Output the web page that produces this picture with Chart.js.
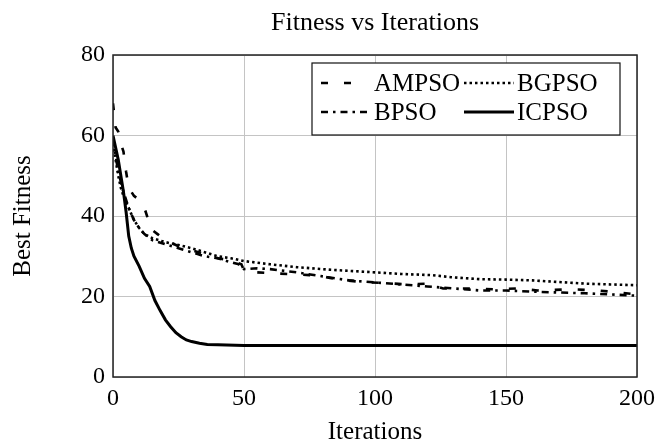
<!DOCTYPE html>
<html>
<head>
<meta charset="utf-8">
<script src="https://cdn.jsdelivr.net/npm/chart.js@4.4.1/dist/chart.umd.min.js"></script>
<style>
  body { margin: 0; background: #fff; }
</style>
</head>
<body>
<canvas id="fitnessChart" width="667" height="445"></canvas>
<script>
// values
const ampsoIters = [0, 1, 2, 3, 4, 5, 6, 8, 10, 12, 13, 14, 17, 20, 25, 30, 35, 40, 45, 49, 50, 55, 60, 70, 75, 80, 85, 95, 105, 112, 120, 126, 135, 145, 155, 162, 175, 185, 193, 200];
const ampsoFitness = [68, 62, 61, 58, 56, 51, 47, 45, 44, 42, 40, 37, 35.5, 34, 32.5, 31.5, 30.5, 29.5, 29, 28, 26.5, 26, 25.8, 25.5, 25.3, 25, 24.3, 23.6, 23.3, 23, 23.2, 22, 22, 21.8, 22, 21.5, 21.8, 21.5, 21, 20.5];

const bgpsoIters = [0, 1, 2, 3, 4, 6, 8, 10, 12, 15, 20, 25, 30, 35, 40, 45, 50, 60, 70, 84, 100, 110, 122, 129, 140, 150, 160, 170, 180, 190, 200];
const bgpsoFitness = [58, 54, 50, 47, 45, 42, 39, 37, 35.5, 34.5, 33.5, 32.8, 32, 31, 30, 29.5, 28.8, 28, 27.3, 26.6, 26, 25.6, 25.3, 24.8, 24.3, 24.2, 24, 23.6, 23.2, 23, 22.8];

const bpsoIters = [0, 2, 4, 6, 8, 10, 12, 15, 20, 25, 30, 35, 40, 45, 48, 50, 55, 60, 70, 80, 90, 100, 110, 120, 130, 140, 150, 160, 170, 180, 190, 200];
const bpsoFitness = [59, 51, 46, 42, 39, 37, 35.5, 34, 33, 32, 31, 30, 29.5, 28.5, 28, 26.8, 27, 26.8, 26, 25, 24, 23.5, 23, 22.5, 22, 21.5, 21.5, 21.2, 21, 20.8, 20.5, 20.2];

const icpsoIters = [0, 2, 4, 5, 6, 7, 8, 10, 12, 14, 16, 18, 20, 22, 24, 26, 28, 30, 33, 36, 40, 50, 60, 100, 150, 200];
const icpsoFitness = [60, 54, 46, 41, 35, 32, 30, 27.5, 24.5, 22.5, 19, 16.5, 14.2, 12.5, 11, 10, 9.2, 8.8, 8.4, 8.1, 8, 7.8, 7.8, 7.8, 7.8, 7.8];

const xTicks = [0, 50, 100, 150, 200];
const yTicks = [0, 20, 40, 60, 80];

const chartTitle = 'Fitness vs Iterations';
const serif = "'Liberation Serif', 'Times New Roman', serif";

function toPoints(iters, values) {
    return iters.map((it, i) => ({ x: it, y: values[i] }));
}

// frame, title over the plot area and the legend box in the upper right corner
const framePlugin = {
    id: 'frame',
    afterDatasetsDraw(chart) {
        const { ctx, chartArea } = chart;
        ctx.save();
        ctx.strokeStyle = '#222';
        ctx.lineWidth = 1.5;
        ctx.strokeRect(chartArea.left, chartArea.top, chartArea.right - chartArea.left, chartArea.bottom - chartArea.top);

        ctx.fillStyle = '#000';
        ctx.font = "26px " + serif;
        ctx.textAlign = 'center';
        ctx.textBaseline = 'alphabetic';
        ctx.fillText(chartTitle, (chartArea.left + chartArea.right) / 2, 30);

        const boxW = 308, boxH = 72;
        const bx = chartArea.right - 17 - boxW;
        const by = chartArea.top + 8;
        ctx.fillStyle = '#fff';
        ctx.fillRect(bx, by, boxW, boxH);
        ctx.lineWidth = 1.2;
        ctx.strokeStyle = '#111';
        ctx.strokeRect(bx, by, boxW, boxH);

        const sets = chart.data.datasets;
        ctx.font = "25px " + serif;
        ctx.textAlign = 'left';
        ctx.textBaseline = 'middle';
        sets.forEach((ds, k) => {
            const col = k % 2, row = Math.floor(k / 2);
            const sx = bx + 9 + col * 143;
            const sy = by + 20 + row * 29;
            // the dashed sample only shows two dashes in the original
            const len = ds.borderDash && ds.borderDash.length === 2 && ds.borderDash[1] > 10 ? 31 : 50;
            ctx.beginPath();
            ctx.setLineDash(ds.borderDash || []);
            ctx.lineWidth = ds.borderWidth;
            ctx.strokeStyle = ds.borderColor;
            ctx.moveTo(sx, sy);
            ctx.lineTo(sx + len, sy);
            ctx.stroke();
            ctx.setLineDash([]);
            ctx.fillStyle = '#000';
            ctx.fillText(ds.label, sx + 53, sy + 1);
        });
        ctx.restore();
    }
};

new Chart(document.getElementById('fitnessChart'), {
    type: 'line',
    data: {
        datasets: [
            { label: 'AMPSO', data: toPoints(ampsoIters, ampsoFitness), borderColor: '#000', borderWidth: 2.6, borderDash: [7, 16] },
            { label: 'BGPSO', data: toPoints(bgpsoIters, bgpsoFitness), borderColor: '#000', borderWidth: 2.6, borderDash: [2.5, 3] },
            { label: 'BPSO', data: toPoints(bpsoIters, bpsoFitness), borderColor: '#000', borderWidth: 2.6, borderDash: [7, 5, 2.5, 5] },
            { label: 'ICPSO', data: toPoints(icpsoIters, icpsoFitness), borderColor: '#000', borderWidth: 3 }
        ]
    },
    options: {
        responsive: false,
        animation: false,
        layout: { padding: { left: 0, right: 30, top: 55, bottom: 0 } },
        elements: { point: { radius: 0 }, line: { tension: 0, fill: false } },
        plugins: {
            legend: { display: false },
            tooltip: { enabled: false },
            title: { display: false }
        },
        scales: {
            x: {
                type: 'linear',
                min: 0,
                max: 200,
                afterBuildTicks: scale => { scale.ticks = xTicks.map(v => ({ value: v })); },
                afterFit: scale => { scale.height = 68; },
                grid: { color: '#c4c4c4', lineWidth: 1, drawTicks: false },
                border: { display: false },
                ticks: { color: '#000', padding: 7, maxRotation: 0, font: { family: serif, size: 24 } },
                title: { display: true, text: 'Iterations', color: '#000', font: { family: serif, size: 25, lineHeight: 1.0 }, padding: { top: 0, bottom: 0 } }
            },
            y: {
                min: 0,
                max: 80,
                afterBuildTicks: scale => { scale.ticks = yTicks.map(v => ({ value: v })); },
                afterFit: scale => { scale.width = 113; },
                grid: { color: '#c4c4c4', lineWidth: 1, drawTicks: false },
                border: { display: false },
                ticks: { color: '#000', padding: 8, font: { family: serif, size: 24 } },
                title: { display: true, text: 'Best Fitness', color: '#000', font: { family: serif, size: 25 }, padding: { top: 8, bottom: 0 } }
            }
        }
    },
    plugins: [framePlugin]
});
</script>
</body>
</html>
